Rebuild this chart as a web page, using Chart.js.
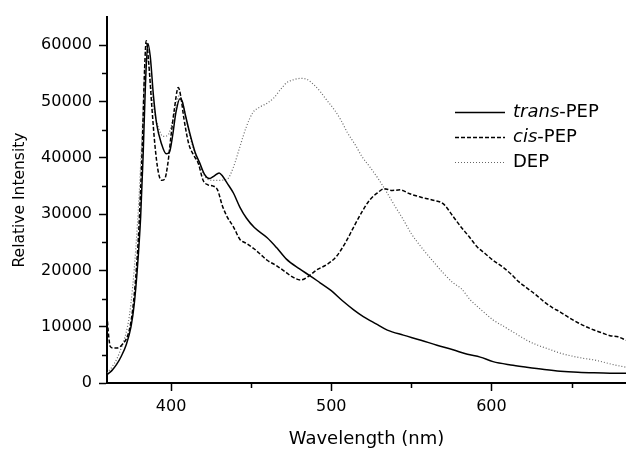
<!DOCTYPE html>
<html>
<head>
<meta charset="utf-8">
<script src="https://cdn.jsdelivr.net/npm/chart.js@4/dist/chart.umd.min.js"></script>
<style>
  html, body { margin: 0; padding: 0; background: #fff; }
  #wrap { width: 626px; height: 450px; }
</style>
</head>
<body>
<div id="wrap"><canvas id="chart" width="626" height="450"></canvas></div>
<script>
// Emission spectra (wavelength in nm, intensity in counts)
const transWavelength = [360, 363, 366, 369, 372, 375, 377, 379, 381, 382.5, 384, 385.5, 387, 389, 391, 394, 397, 399, 401, 403, 405.5, 407, 409, 412, 415, 418, 421, 424, 427, 430, 432, 435, 439, 443, 447, 452, 460, 466, 472, 480, 487, 493, 500, 507, 514, 520, 528, 535, 545, 556, 566, 576, 585, 593, 601, 612, 622, 633, 643, 654, 664, 674, 684];
const transIntensity = [1500, 2200, 3300, 4800, 6800, 10000, 14000, 20500, 29500, 40000, 53000, 60300, 58000, 51000, 46000, 42500, 40700, 41000, 44000, 48000, 50500, 50000, 47500, 44000, 41000, 39000, 37000, 36300, 36800, 37300, 36800, 35500, 33700, 31200, 29300, 27600, 25800, 24000, 22000, 20300, 19000, 17800, 16400, 14600, 13000, 11800, 10500, 9400, 8500, 7600, 6700, 5900, 5100, 4600, 3800, 3200, 2800, 2400, 2100, 1900, 1800, 1750, 1750];

const cisWavelength = [360, 361, 362, 364, 366, 368, 370, 372, 374, 376, 378, 380, 382, 383.5, 384.5, 386, 388, 390, 392, 394, 396, 398, 400, 402, 404.5, 406, 408, 411, 414, 417, 420, 423, 426, 429, 432, 435, 439, 443, 447, 452, 456, 460, 466, 472, 476, 481, 486, 491, 497, 503, 509, 514, 519, 524, 529, 533, 538, 543, 549, 556, 563, 570, 576, 581, 586, 591, 596, 601, 607, 612, 617, 622, 628, 633, 638, 643, 649, 654, 659, 664, 669, 674, 679, 684];
const cisIntensity = [12000, 8500, 6500, 6200, 6200, 6400, 7000, 7800, 9500, 13000, 19000, 28000, 42000, 56000, 60800, 57000, 49000, 42000, 37500, 36000, 36200, 39000, 44000, 48500, 52500, 51000, 47000, 42500, 40500, 39000, 36000, 35200, 35000, 34300, 31500, 29500, 27700, 25500, 24800, 23800, 22800, 21800, 20800, 19600, 18800, 18300, 19000, 20100, 21000, 22400, 25000, 27700, 30300, 32500, 33800, 34500, 34200, 34300, 33600, 33000, 32500, 31800, 29600, 27700, 26000, 24200, 23000, 21800, 20600, 19400, 18000, 16900, 15600, 14400, 13400, 12600, 11500, 10700, 10000, 9400, 8900, 8400, 8200, 7600];

const depWavelength = [360, 363, 366, 369, 372, 374, 376, 378, 380, 382, 383.5, 385, 387, 389, 392, 395, 398, 400, 403, 405, 407, 410, 414, 418, 422, 426, 430, 435, 439, 443, 447, 451, 456, 460, 464, 468, 472, 477, 481, 485, 489, 493, 497, 502, 506, 510, 515, 519, 524, 530, 535, 540, 545, 550, 556, 563, 570, 576, 581, 587, 594, 601, 608, 615, 622, 629, 636, 643, 650, 657, 664, 670, 677, 684];
const depIntensity = [1800, 2800, 4200, 6300, 9000, 12000, 17000, 24000, 33000, 45000, 55000, 58000, 54000, 49000, 45500, 43800, 44000, 45500, 49000, 51000, 50000, 46000, 41500, 38500, 36400, 36000, 36000, 36200, 38400, 42000, 45500, 48000, 49100, 49700, 50600, 52000, 53300, 53900, 54100, 53900, 53000, 51800, 50300, 48500, 46700, 44500, 42300, 40300, 38400, 36000, 33700, 31300, 29000, 26500, 24200, 21800, 19500, 17800, 16800, 14700, 12900, 11200, 10000, 8800, 7600, 6700, 6000, 5300, 4800, 4400, 4100, 3700, 3200, 2800];

const xMajorTicks = [400, 500, 600];
const xMinorTicks = [450, 550, 650];
const yMajorTicks = [0, 10000, 20000, 30000, 40000, 50000, 60000];
const yMinorTicks = [5000, 15000, 25000, 35000, 45000, 55000];

const toPoints = (xs, ys) => xs.map((x, i) => ({ x, y: ys[i] }));

const FONT = '"DejaVu Sans", "Liberation Sans", sans-serif';

// Shorter minor tick marks (Chart.js has no minor ticks)
const minorTicks = {
  id: 'minorTicks',
  afterDraw(chart) {
    const { ctx, scales: { x, y } } = chart;
    ctx.save();
    ctx.strokeStyle = '#000';
    ctx.lineWidth = 1.5;
    ctx.beginPath();
    yMinorTicks.forEach(v => {
      const py = Math.round(y.getPixelForValue(v)) + 0.5;
      ctx.moveTo(y.right - 5, py);
      ctx.lineTo(y.right, py);
    });
    xMinorTicks.forEach(v => {
      const px = Math.round(x.getPixelForValue(v)) + 0.5;
      ctx.moveTo(px, x.top);
      ctx.lineTo(px, x.top + 5);
    });
    ctx.stroke();
    ctx.restore();
  }
};

// Legend drawn inside the plot, with italic prefixes
const sideLegend = {
  id: 'sideLegend',
  afterDraw(chart) {
    const ctx = chart.ctx;
    const rows = [
      { italic: 'trans', rest: '-PEP', dash: [], color: '#000', width: 1.5 },
      { italic: 'cis', rest: '-PEP', dash: [4, 2], color: '#000', width: 1.5 },
      { italic: '', rest: 'DEP', dash: [1, 2], color: '#666', width: 1 }
    ];
    rows.forEach((r, i) => {
      const yy = 112 + i * 25;
      ctx.save();
      ctx.strokeStyle = r.color;
      ctx.lineWidth = r.width;
      ctx.setLineDash(r.dash);
      ctx.beginPath();
      ctx.moveTo(455, yy + 0.5);
      ctx.lineTo(505, yy + 0.5);
      ctx.stroke();
      ctx.setLineDash([]);
      ctx.fillStyle = '#000';
      ctx.textBaseline = 'middle';
      let tx = 513;
      if (r.italic) {
        ctx.font = 'italic 18px ' + FONT;
        ctx.fillText(r.italic, tx, yy);
        tx += ctx.measureText(r.italic).width;
      }
      ctx.font = '18px ' + FONT;
      ctx.fillText(r.rest, tx, yy);
      ctx.restore();
    });
  }
};

new Chart(document.getElementById('chart'), {
  type: 'line',
  data: {
    datasets: [
      {
        label: 'trans-PEP',
        data: toPoints(transWavelength, transIntensity),
        borderColor: '#000',
        borderWidth: 1.5
      },
      {
        label: 'cis-PEP',
        data: toPoints(cisWavelength, cisIntensity),
        borderColor: '#000',
        borderWidth: 1.5,
        borderDash: [4, 2]
      },
      {
        label: 'DEP',
        data: toPoints(depWavelength, depIntensity),
        borderColor: '#666',
        borderWidth: 1.2,
        borderDash: [1, 2]
      }
    ]
  },
  options: {
    responsive: false,
    animation: false,
    parsing: false,
    layout: { padding: { top: 17, right: 0, bottom: 0, left: 0 } },
    elements: {
      point: { radius: 0 },
      line: { cubicInterpolationMode: 'monotone', fill: false }
    },
    plugins: {
      legend: { display: false },
      tooltip: { enabled: false }
    },
    scales: {
      x: {
        type: 'linear',
        min: 360,
        max: 684,
        afterBuildTicks: (scale) => { scale.ticks = xMajorTicks.map(v => ({ value: v })); },
        afterFit: (scale) => { scale.height = 67; },
        border: { display: true, color: '#000', width: 2 },
        grid: { drawOnChartArea: false, drawTicks: true, tickLength: 8, tickWidth: 1.5, tickColor: '#000' },
        ticks: { color: '#000', padding: 6, maxRotation: 0, font: { family: FONT, size: 16 }, callback: (v) => String(v) },
        title: {
          display: true,
          text: 'Wavelength (nm)',
          color: '#000',
          padding: { top: 0, bottom: 0 },
          font: { family: FONT, size: 18 }
        }
      },
      y: {
        type: 'linear',
        min: 0,
        max: 65000,
        afterBuildTicks: (scale) => { scale.ticks = yMajorTicks.map(v => ({ value: v })); },
        afterFit: (scale) => { scale.width = 107; },
        border: { display: true, color: '#000', width: 2 },
        grid: { drawOnChartArea: false, drawTicks: true, tickLength: 8, tickWidth: 1.5, tickColor: '#000' },
        ticks: { color: '#000', padding: 7, font: { family: FONT, size: 16 }, callback: (v) => String(v) },
        title: {
          display: true,
          text: 'Relative Intensity',
          color: '#000',
          padding: { top: 11, bottom: 0 },
          font: { family: FONT, size: 15.5 }
        }
      }
    }
  },
  plugins: [minorTicks, sideLegend]
});
</script>
</body>
</html>
